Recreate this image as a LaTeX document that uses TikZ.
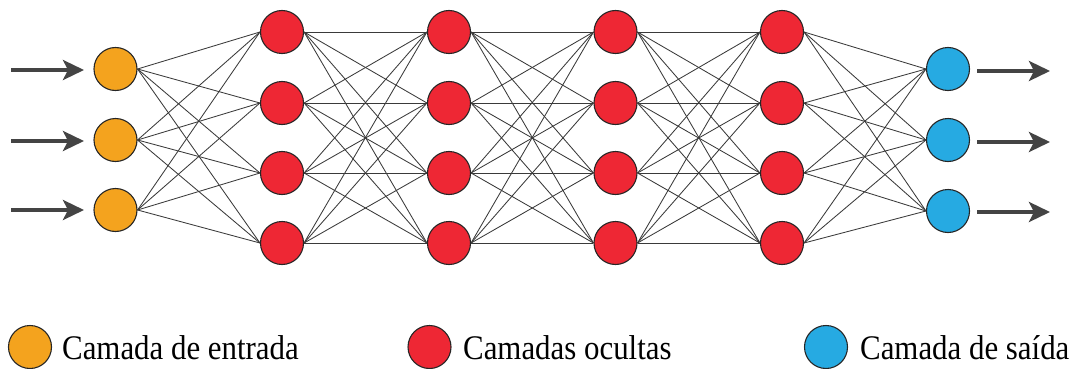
\documentclass[tikz,border=0pt]{standalone}
\usepackage{fontspec}
\setmainfont{Liberation Serif}
\newfontfamily\legendfont{Liberation Serif}
\usetikzlibrary{arrows.meta}
\definecolor{inorange}{HTML}{F4A31E}
\definecolor{hidred}{HTML}{EE2734}
\definecolor{outblue}{HTML}{26AAE2}
\definecolor{edgegray}{HTML}{3A3A3A}
\definecolor{arrowgray}{HTML}{444444}
\tikzset{
  neuron/.style={circle, draw=black!85, line width=1.1pt, minimum size=43pt, inner sep=0pt},
  inneuron/.style={neuron, fill=inorange},
  hidneuron/.style={neuron, fill=hidred},
  outneuron/.style={neuron, fill=outblue},
  link/.style={draw=edgegray, line width=0.85pt},
  flow/.style={draw=arrowgray, line width=3.8pt, -{Stealth[length=21pt, width=20pt, inset=5pt]}},
  legendtext/.style={anchor=base west, inner sep=0pt, xscale=0.895, font=\legendfont\fontsize{34.5}{40}\selectfont}
}
\begin{document}
\begin{tikzpicture}[x=1pt, y=-1pt]
\useasboundingbox (0,0) rectangle (1091,369);

% input layer
\foreach \i/\y in {1/69, 2/140, 3/210}
  \node[inneuron] (in\i) at (115.5,\y) {};
% hidden layers
\foreach \l/\x in {1/282, 2/449, 3/615.5, 4/782}
  \foreach \j/\y in {1/32, 2/103, 3/173, 4/243}
    \node[hidneuron] (h\l\j) at (\x,\y) {};
% output layer
\foreach \k/\y in {1/69, 2/140, 3/211}
  \node[outneuron] (out\k) at (948,\y) {};

% connections
\foreach \i in {1,2,3}
  \foreach \j in {1,2,3,4}
    \draw[link] (in\i.east) -- (h1\j.west);
\foreach \l/\m in {1/2, 2/3, 3/4}
  \foreach \i in {1,2,3,4}
    \foreach \j in {1,2,3,4}
      \draw[link] (h\l\i.east) -- (h\m\j.west);
\foreach \i in {1,2,3,4}
  \foreach \k in {1,2,3}
    \draw[link] (h4\i.east) -- (out\k.west);

% input and output arrows
\foreach \i/\y in {1/70, 2/141, 3/210} {
  \coordinate (src\i) at (11,\y);
  \draw[flow] (src\i) -- (84,\y);
}
\foreach \k/\y in {1/71, 2/142, 3/212} {
  \coordinate (dst\k) at (1050,\y);
  \draw[flow] (977,\y) -- (dst\k);
}

% legend
\node[inneuron] (legin) at (30,347) {};
\node[legendtext] (legintext) at (62,359.5) {Camada de entrada};
\node[hidneuron] (leghid) at (429.5,347) {};
\node[legendtext] (leghidtext) at (463,359.5) {Camadas ocultas};
\node[outneuron] (legout) at (826,347) {};
\node[legendtext] (legouttext) at (860,359.5) {Camada de saída};
\end{tikzpicture}
\end{document}
